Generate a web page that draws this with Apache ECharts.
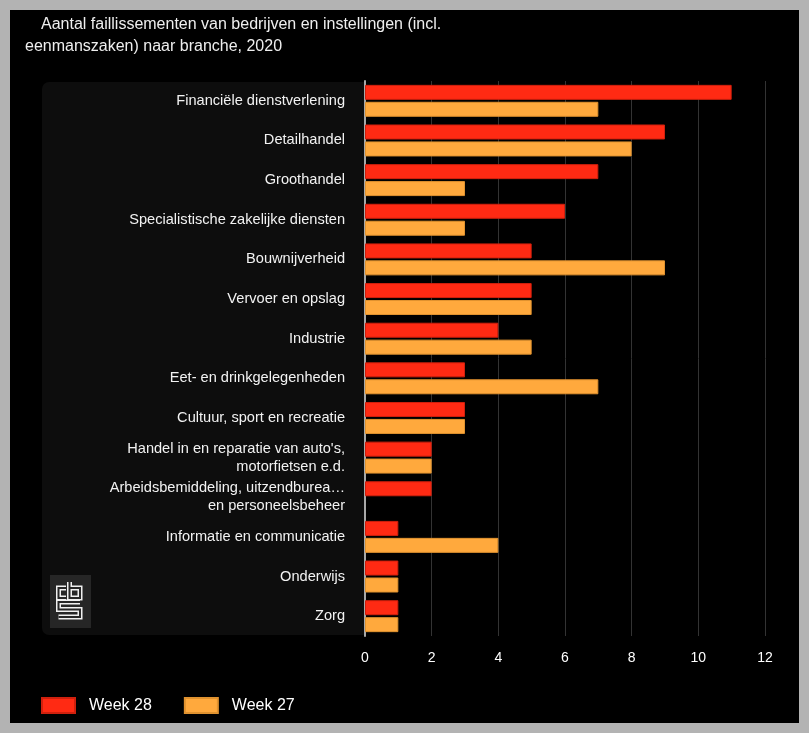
<!DOCTYPE html>
<html><head><meta charset="utf-8">
<script src="https://cdn.jsdelivr.net/npm/echarts@6/dist/echarts.min.js"></script>
<style>html,body{margin:0;padding:0;background:#b3b3b3;}#c{width:809px;height:733px;}</style>
</head><body><div id="c"></div>
<script>
const categories = [
  "Financiële dienstverlening",
  "Detailhandel",
  "Groothandel",
  "Specialistische zakelijke diensten",
  "Bouwnijverheid",
  "Vervoer en opslag",
  "Industrie",
  "Eet- en drinkgelegenheden",
  "Cultuur, sport en recreatie",
  "Handel in en reparatie van auto's,\nmotorfietsen e.d.",
  "Arbeidsbemiddeling, uitzendburea…\nen personeelsbeheer",
  "Informatie en communicatie",
  "Onderwijs",
  "Zorg"
];
const week28 = [11, 9, 7, 6, 5, 5, 4, 3, 3, 2, 2, 1, 1, 1];
const week27 = [7, 8, 3, 3, 9, 5, 5, 7, 3, 2, 0, 4, 1, 1];
const xTicks = [0, 2, 4, 6, 8, 10, 12];
const titleLines = ["Aantal faillissementen van bedrijven en instellingen (incl.", "eenmanszaken) naar branche, 2020"];

const FONT = "'Liberation Sans', Arial, sans-serif";
const noZero = arr => arr.map(v => v === 0 ? '-' : v);
const chart = echarts.init(document.getElementById('c'), null, {renderer: 'canvas'});
const logoPaths = [
  [[66,588],[58.5,588],[58.5,598],[66,598]],
  [[69.5,582],[69.5,598],[80,598],[80,588],[69.5,588]],
  [[80,602],[58.5,602],[58.5,609.5],[80,609.5],[80,617],[58.5,617]]
];
const logo = [];
logoPaths.forEach(p => logo.push({type: 'polyline', shape: {points: p}, style: {stroke: '#f0f0f0', lineWidth: 5, fill: null}}));
logoPaths.forEach(p => logo.push({type: 'polyline', shape: {points: p}, style: {stroke: '#262626', lineWidth: 2, fill: null}}));
chart.setOption({
  backgroundColor: '#b3b3b3',
  animation: false,
  title: [
    {text: titleLines[0], left: 36, top: 12, textStyle: {color: '#eeeeee', fontSize: 16, fontWeight: 'normal', fontFamily: FONT}},
    {text: titleLines[1], left: 20, top: 34, textStyle: {color: '#eeeeee', fontSize: 16, fontWeight: 'normal', fontFamily: FONT}}
  ],
  graphic: [
    {type: 'rect', z: -30, shape: {x: 10, y: 10, width: 789, height: 713}, style: {fill: '#000000'}},
    {type: 'rect', z: -20, shape: {x: 42, y: 82, width: 323, height: 553, r: [7, 0, 0, 7]}, style: {fill: '#0d0d0d'}},
    {type: 'rect', z: -10, shape: {x: 50, y: 575, width: 41, height: 53}, style: {fill: '#262626'}},
    {type: 'group', z: -5, children: logo}
  ],
  legend: {
    left: 41, top: 697, padding: 0, itemWidth: 33, itemHeight: 15, itemGap: 32,
    icon: 'rect',
    textStyle: {color: '#ffffff', fontSize: 16, fontFamily: FONT, padding: [0,0,0,9]},
    data: ['Week 28', 'Week 27']
  },
  grid: {left: 365, right: 44, top: 81, bottom: 97, containLabel: false},
  xAxis: {
    type: 'value', min: 0, max: 12, interval: 2,
    axisLine: {show: false}, axisTick: {show: false},
    splitLine: {show: true, lineStyle: {color: '#333333', width: 1}},
    axisLabel: {color: '#ffffff', fontSize: 14, fontFamily: FONT, margin: 15,
      formatter: v => xTicks.includes(v) ? String(v) : ''}
  },
  yAxis: {
    type: 'category', inverse: true, data: categories,
    axisLine: {show: true, lineStyle: {color: '#a8a8a8', width: 2}},
    axisTick: {show: false},
    axisLabel: {color: '#f2f2f2', fontSize: 14.6, fontFamily: FONT, margin: 20, lineHeight: 18, align: 'right'}
  },
  series: [
    {name: 'Week 28', type: 'bar', data: noZero(week28), barWidth: 15, barGap: '13%',
      itemStyle: {color: '#ff2a13', borderColor: '#d0200d', borderWidth: 1}},
    {name: 'Week 27', type: 'bar', data: noZero(week27), barWidth: 15,
      itemStyle: {color: '#ffa93d', borderColor: '#e0922f', borderWidth: 1}}
  ]
});
</script></body></html>
